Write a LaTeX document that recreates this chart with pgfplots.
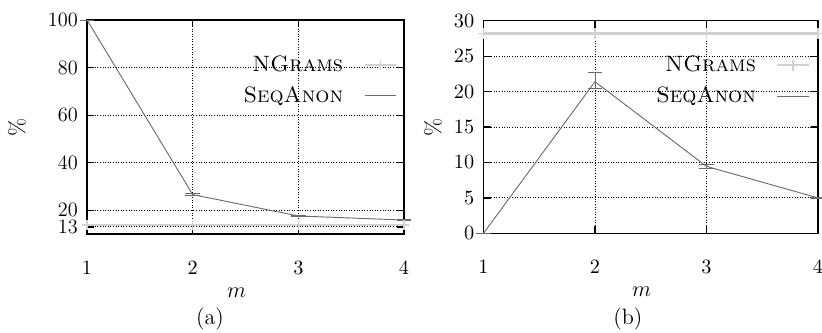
\documentclass[border=0pt]{standalone}
\usepackage{pgfplots}
\pgfplotsset{compat=1.18}

\definecolor{ngram}{gray}{0.82}
\definecolor{seq}{gray}{0.42}
\newcommand{\bigf}{\fontsize{12}{14}\selectfont}
\newcommand{\tickf}{\fontsize{11}{13}\selectfont}

\pgfplotstableread{
x y
1 13.8
2 13.8
3 13.8
4 13.8
}\ngramsA
\pgfplotstableread{
x y ep em
1 100 0 0
2 26.6 0.3 0.3
3 17.6 0.2 0.2
4 15.9 0.1 0.1
}\seqA
\pgfplotstableread{
x y
1 28.2
2 28.2
3 28.2
4 28.2
}\ngramsB
\pgfplotstableread{
x y ep em
1 0 0 0
2 21.4 1.3 0.9
3 9.45 0.25 0.25
4 5.0 0.1 0.1
}\seqB

\pgfplotsset{
  gstyle/.style={
    scale only axis,
    xmin=1, xmax=4, xtick={1,2,3,4},
    grid=major,
    grid style={densely dotted, black, line width=0.5pt},
    axis line style={line width=0.7pt},
    tick style={black, line width=0.7pt},
    major tick length=4pt,
    tick label style={font=\tickf},
    label style={font=\bigf},
    xticklabel style={inner sep=0pt, yshift=-14.5pt},
    yticklabel style={inner sep=0pt, xshift=-4.8pt},
    clip=false,
    legend cell align=right,
    legend plot pos=right,
    legend style={draw=none, fill=none, row sep=2.5pt, column sep=9pt, font=\bigf},
    xlabel={$m$}, ylabel={\%},
  },
  ngstyle/.style={color=ngram, line width=1.1pt, mark=+, mark size=2.8pt, mark options={solid, line width=0.8pt}},
  sqstyle/.style={color=seq, line width=0.5pt, mark=none},
  errstyle/.style={forget plot, color=seq, line width=0.5pt, draw=none, mark=none,
     error bars/.cd, y dir=both, y explicit, error bar style={line width=0.5pt, seq},
     error mark options={rotate=90, mark size=4pt, line width=0.5pt, seq}},
}

\begin{document}
\begin{tikzpicture}
\begin{axis}[gstyle,
  at={(47pt,52.9pt)}, anchor=south west,
  width=171.2pt, height=115.6pt,
  ymin=10, ymax=100, ytick={13,20,40,60,80,100},
  yticklabels={\raisebox{-1.2pt}{13},\raisebox{1pt}{20},40,60,80,100},
  xlabel style={at={(rel axis cs:0.472,-0.272)}, anchor=center},
  ylabel style={at={(rel axis cs:-0.221,0.5)}, anchor=center, rotate=0},
  legend style={at={(rel axis cs:0.997,0.87)}, anchor=north east},
]
\addplot[ngstyle] table[x=x,y=y] {\ngramsA};
\addlegendentry{\textsc{NGrams}}
\addplot[sqstyle] table[x=x,y=y] {\seqA};
\addlegendentry{\textsc{SeqAnon}}
\addplot[errstyle] table[x=x,y=y,y error plus=ep,y error minus=em] {\seqA};
\end{axis}
\begin{axis}[gstyle,
  at={(261.1pt,53.3pt)}, anchor=south west,
  width=180.6pt, height=114.8pt,
  ymin=0, ymax=30, ytick={0,5,10,15,20,25,30},
  xlabel style={at={(rel axis cs:0.473,-0.277)}, anchor=center},
  ylabel style={at={(rel axis cs:-0.151,0.5)}, anchor=center, rotate=0},
  legend style={at={(rel axis cs:0.994,0.87)}, anchor=north east},
]
\addplot[ngstyle] table[x=x,y=y] {\ngramsB};
\addlegendentry{\textsc{NGrams}}
\addplot[sqstyle] table[x=x,y=y] {\seqB};
\addlegendentry{\textsc{SeqAnon}}
\addplot[errstyle] table[x=x,y=y,y error plus=ep,y error minus=em] {\seqB};
\end{axis}
\node[font=\bigf] at (113.4pt,7.0pt) {(a)};
\node[font=\bigf] at (339.1pt,7.0pt) {(b)};
\pgfresetboundingbox
\useasboundingbox (0,0) rectangle (443.9pt,179.3pt);
\end{tikzpicture}
\end{document}
